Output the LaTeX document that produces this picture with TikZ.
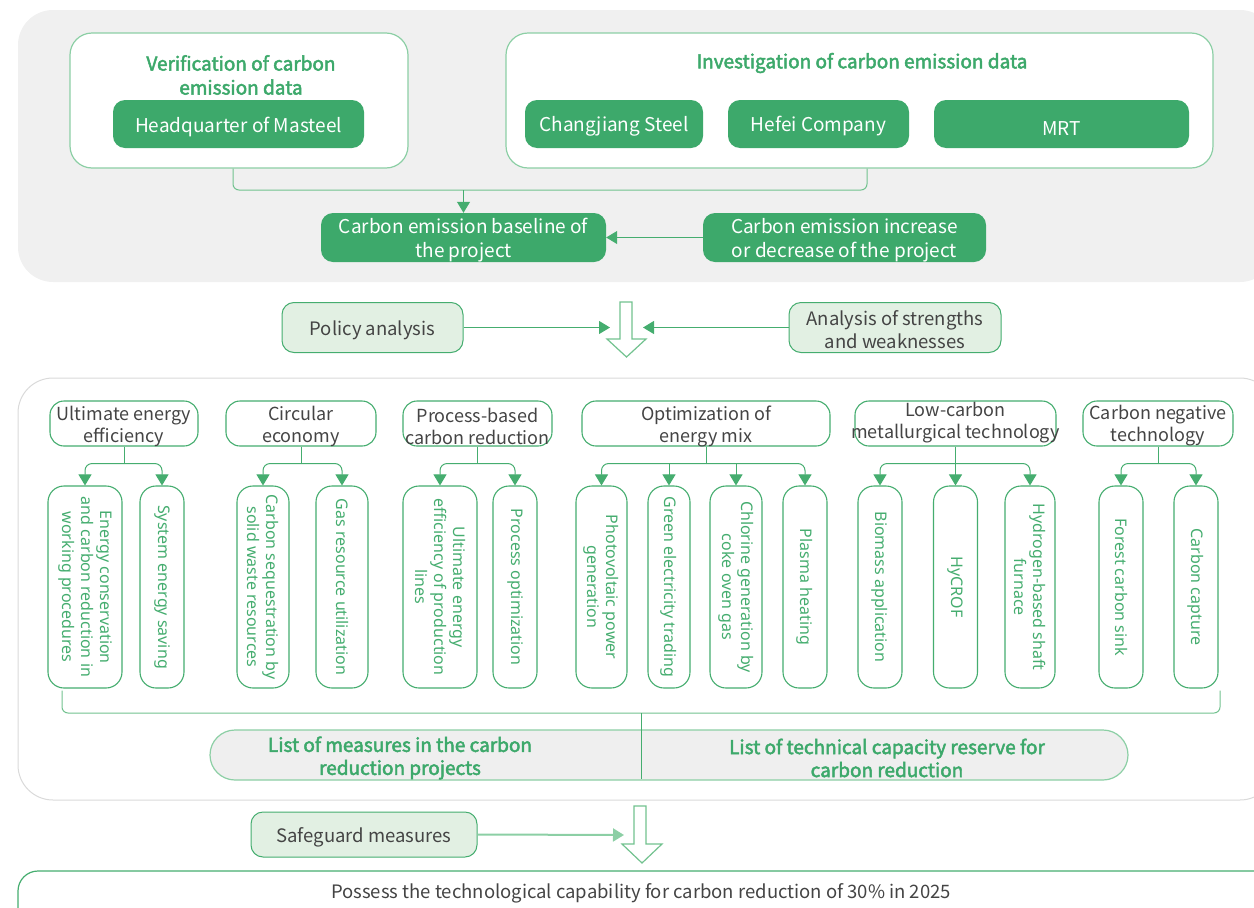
\documentclass[tikz,border=0pt]{standalone}
\usepackage{fontspec}
\setmainfont{Noto Sans CJK SC}
\newfontfamily\leaffont{Noto Sans}
\newfontfamily\medfont[FakeBold=2.5]{Noto Sans CJK SC}
\usetikzlibrary{arrows.meta}
\definecolor{gdark}{HTML}{3DA96B}
\definecolor{gmid}{HTML}{45AD6F}
\definecolor{glight}{HTML}{8CCFA5}
\definecolor{gline}{HTML}{72C28F}
\definecolor{lgfill}{HTML}{E2F0E3}
\definecolor{panelgray}{HTML}{F0F0F0}
\definecolor{listgray}{HTML}{EFEFEF}
\definecolor{txtgray}{HTML}{444444}
\definecolor{panelline}{HTML}{DADADA}
\newcommand\fsz[2]{\fontsize{#1}{#2}\selectfont}
\tikzset{
  darkbox/.style={fill=gdark, draw=none, rounded corners=12pt, inner sep=0pt},
  dtxt/.style={text=white, font=\fsz{19}{24}, align=center, inner sep=0pt},
  grpbox/.style={draw=glight, fill=white, line width=1.2pt, rounded corners=22pt, inner sep=0pt},
  grptitle/.style={text=gdark, font=\medfont\fsz{19}{24}, align=center, inner sep=0pt},
  lgbox/.style={fill=lgfill, draw=gmid, line width=1pt, rounded corners=12pt, inner sep=0pt},
  gtxt/.style={text=txtgray, font=\fsz{18.5}{23}, align=center, inner sep=0pt},
  catbox/.style={draw=gmid, fill=white, line width=1.1pt, rounded corners=14pt, inner sep=0pt, minimum height=45pt},
  ctxt/.style={text=txtgray, font=\fsz{18}{22}, align=center, inner sep=0pt},
  leaf/.style={draw=gmid, fill=white, line width=1.1pt, rounded corners=16pt, text=gmid, font=\leaffont\fsz{16}{19}, align=center, inner sep=0pt, rotate=-90, minimum width=202pt},
  listtxt/.style={text=gdark, font=\medfont\fsz{19}{23}, align=center, inner sep=0pt},
  conn/.style={draw=gmid, line width=1pt},
  connl/.style={draw=gline, line width=1pt},
  tip/.style={-{Triangle[width=13pt,length=11pt]}, color=gmid},
  hollow/.style={draw=gline, fill=white, line width=1.2pt, line join=miter},
}
\begin{document}
\begin{tikzpicture}[x=1pt,y=-1pt]
\useasboundingbox (0,0) rectangle (1254,908);
\clip (0,0) rectangle (1254,908);

% ---------- top panel ----------
\fill[panelgray, rounded corners=35pt] (18,10) rectangle (1275,282);
\node[grpbox, minimum width=338pt, minimum height=135pt] (ver) at (239,100.5) {};
\node[grpbox, minimum width=707pt, minimum height=135pt] (inv) at (859.5,100.5) {};
\node[grptitle] (vert) at (241,75) {Verification of carbon\\emission data};
\node[grptitle] (invt) at (862,63) {Investigation of carbon emission data};

\node[darkbox, minimum width=251pt, minimum height=48pt] (hq) at (238.5,124) {};
\node[darkbox, minimum width=178pt, minimum height=48pt] (cj) at (614,124) {};
\node[darkbox, minimum width=181pt, minimum height=48pt] (hf) at (818.5,124) {};
\node[darkbox, minimum width=255pt, minimum height=48pt] (mrt) at (1061.5,124) {};
\node[darkbox, minimum width=285pt, minimum height=49pt] (base) at (463.5,237.5) {};
\node[darkbox, minimum width=283pt, minimum height=49pt] (inc) at (844.5,237.5) {};
\node[dtxt] (hqt) at ([yshift=-2.5pt]hq.center) {Headquarter of Masteel};
\node[dtxt] (cjt) at ([yshift=-2.5pt]cj.center) {Changjiang Steel};
\node[dtxt] (hft) at ([yshift=-2.5pt]hf.center) {Hefei Company};
\node[dtxt] (mrtt) at ([yshift=-5pt]mrt.center) {MRT};
\node[dtxt] (baset) at ([yshift=-2.5pt]base.center) {Carbon emission baseline of\\the project};
\node[dtxt] (inct) at ([yshift=-2.5pt]inc.center) {Carbon emission increase\\or decrease of the project};

\coordinate (ja) at (233,190);
\coordinate (jb) at (867,190);
\draw[connl, rounded corners=6pt] (ver.south -| ja) -- (ja) -- (jb) -- (inv.south -| jb);
\draw[conn, tip] (ja -| base.north) -- (base.north);
\draw[conn, tip] (inc.west) -- (base.east);

% ---------- analysis row ----------
\node[lgbox, minimum width=181pt, minimum height=50pt] (pol) at (372.5,327.5) {};
\node[lgbox, minimum width=212pt, minimum height=50pt] (ana) at (895,327.5) {};
\node[gtxt] (polt) at ([yshift=-2.5pt]pol.center) {Policy analysis};
\node[gtxt] (anat) at ([yshift=-2pt]ana.center) {Analysis of strengths\\and weaknesses};
\draw[hollow] (620,302) -- (632,302) -- (632,339) -- (646,339) -- (626.5,357) -- (607,339) -- (620,339) -- cycle;
\coordinate (h1l) at (610,327.5);
\coordinate (h1r) at (643,327.5);
\draw[conn, tip] (pol.east) -- (h1l);
\draw[conn, tip] (ana.west) -- (h1r);

% ---------- middle panel ----------
\draw[panelline, fill=white, line width=1pt, rounded corners=35pt] (18,378) rectangle (1275,800);

\node[catbox, minimum width=148pt] (c1) at (124,423.5) {};
\node[catbox, minimum width=150pt] (c2) at (301,423.5) {};
\node[catbox, minimum width=149pt] (c3) at (477.5,423.5) {};
\node[catbox, minimum width=248pt] (c4) at (706,423.5) {};
\node[catbox, minimum width=201pt] (c5) at (955.5,423.5) {};
\node[catbox, minimum width=150pt] (c6) at (1158,423.5) {};
\node[ctxt] (c1t) at ([yshift=-2.5pt]c1.center) {Ultimate energy\\efficiency};
\node[ctxt] (c2t) at ([yshift=-2.5pt]c2.center) {Circular\\economy};
\node[ctxt] (c3t) at ([yshift=-2.5pt]c3.center) {Process-based\\carbon reduction};
\node[ctxt] (c4t) at ([yshift=-2.5pt]c4.center) {Optimization of\\energy mix};
\node[ctxt] (c5t) at ([yshift=1pt]c5.center) {Low-carbon\\metallurgical technology};
\node[ctxt] (c6t) at ([yshift=-2.5pt]c6.center) {Carbon negative\\technology};

\node[leaf, minimum height=74pt] (l1a) at (85,587) {Energy conservation\\and carbon reduction in\\working procedures};
\node[leaf, minimum height=44pt] (l1b) at (162,587) {System energy saving};
\node[leaf, minimum height=52pt] (l2a) at (263,587) {Carbon sequestration by\\solid waste resources};
\node[leaf, minimum height=52pt] (l2b) at (342,587) {Gas resource utilization};
\node[leaf, minimum height=74pt] (l3a) at (440,587) {Ultimate energy\\efficiency of production\\lines};
\node[leaf, minimum height=44pt] (l3b) at (515,587) {Process optimization};
\node[leaf, minimum height=51pt] (l4a) at (601.5,587) {Photovoltaic power\\generation};
\node[leaf, minimum height=42pt] (l4b) at (669,587) {Green electricity trading};
\node[leaf, minimum height=52pt] (l4c) at (736,587) {Chlorine generation by\\coke oven gas};
\node[leaf, minimum height=44pt] (l4d) at (805,587) {Plasma heating};
\node[leaf, minimum height=44pt] (l5a) at (880,587) {Biomass application};
\node[leaf, minimum height=44pt] (l5b) at (955.5,587) {HyCROF};
\node[leaf, minimum height=50pt] (l5c) at (1030,587) {Hydrogen-based shaft\\furnace};
\node[leaf, minimum height=44pt] (l6a) at (1121,587) {Forest carbon sink};
\node[leaf, minimum height=44pt] (l6b) at (1196,587) {Carbon capture};

% tree connectors
\foreach \c in {1,...,6} { \path (c\c.south) ++(0,17) coordinate (j\c); }
\foreach \c/\a/\b in {1/l1a/l1b, 2/l2a/l2b, 3/l3a/l3b, 4/l4a/l4d, 5/l5a/l5c, 6/l6a/l6b} {
  \draw[conn] (c\c.south) -- (j\c);
  \draw[conn, tip, rounded corners=7pt] (j\c) -| (\a.west);
  \draw[conn, tip, rounded corners=7pt] (j\c) -| (\b.west);
}
\draw[conn, tip] (j4 -| l4b.west) -- (l4b.west);
\draw[conn, tip] (j4 -| l4c.west) -- (l4c.west);
\draw[conn, tip] (j5) -- (l5b.west);

% bracket
\coordinate (bl) at (62,713);
\coordinate (br) at (1220,713);
\coordinate (bm) at (641,713);
\draw[connl, rounded corners=6pt] ([yshift=-2pt]l1a.east -| bl) -- (bl) -- (br) -- ([yshift=-2pt]l6b.east -| br);

\node[fill=listgray, draw=glight, line width=1.2pt, rounded corners=25pt, minimum width=918pt, minimum height=50pt, inner sep=0pt] (list) at (669,755) {};
\draw[conn, line width=0.8pt] (bm) -- ([yshift=2pt]bm |- list.south);
\node[listtxt] (lt1) at (400,758) {List of measures in the carbon\\reduction projects};
\node[listtxt] (lt2) at (887,758) {List of technical capacity reserve for\\carbon reduction};

% ---------- bottom ----------
\node[lgbox, minimum width=226pt, minimum height=45pt] (safe) at (364,834.5) {};
\node[gtxt] (safet) at ([yshift=-2.5pt]safe.center) {Safeguard measures};
\draw[hollow] (634,806) -- (646,806) -- (646,844) -- (662,844) -- (642,863) -- (622,844) -- (634,844) -- cycle;
\coordinate (h2l) at (624,835);
\draw[draw=glight, line width=2pt, -{Triangle[width=13pt,length=11pt]}] (safe.east) -- (h2l);

\draw[draw=gmid, fill=white, line width=1.2pt, rounded corners=20pt] (18,871) rectangle (1275,950);
\node[gtxt] (fin) at (641,893.5) {Possess the technological capability for carbon reduction of 30\% in 2025};
\end{tikzpicture}
\end{document}
